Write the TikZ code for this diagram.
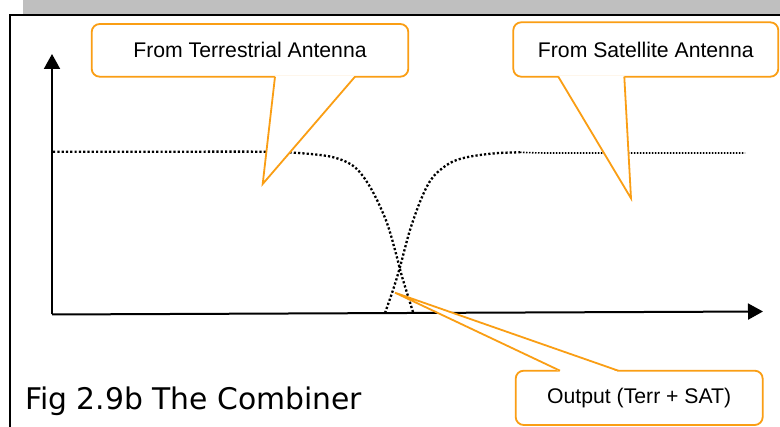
\documentclass[tikz,border=0pt]{standalone}
\usepackage{fontspec}
\setmainfont{Liberation Sans}
\newfontfamily\figfont{DejaVu Sans}
\usetikzlibrary{arrows.meta}
\definecolor{callorange}{RGB}{250,158,20}
\definecolor{bandgray}{RGB}{191,191,191}
\begin{document}
\begin{tikzpicture}[x=1pt,y=-1pt,
  callbox/.style={draw=callorange, line width=1.8pt, fill=white, rounded corners=8pt, inner sep=0pt,
    font=\fontsize{21.2}{25}\selectfont},
  pointer/.style={draw=callorange, line width=1.8pt, line join=miter},
  axisline/.style={line width=2pt, -{Triangle[length=15pt,width=16pt]}},
  sig/.style={line width=2.3pt, dash pattern=on 2.2pt off 2.1pt},
  sigfine/.style={line width=1.6pt, dash pattern=on 1.5pt off 1.5pt}]
\useasboundingbox (0,0) rectangle (780,427);
\fill[white] (0,0) rectangle (780,427);
% frame
\fill[bandgray] (23,0) rectangle (780,14);
\draw[line width=1.6pt] (10,427) -- (10,14.8) -- (780,14.8);
% axes
\coordinate (origin) at (52,314.5);
\coordinate (ytip) at (52,54);
\coordinate (xtip) at (763,311.5);
\draw[axisline] (origin) -- (ytip);
\draw[axisline] (origin) -- (xtip);
% signals
\draw[sig] plot[smooth, tension=0.55] coordinates {(53,151.7) (150,151.7) (265,151.7) (293,152.6) (330,156.5) (352,165) (365,179) (376,198) (387,223) (395,250) (401,273) (407,293) (413,312)};
\draw[sig] plot[smooth, tension=0.55] coordinates {(385,313) (393,290) (400,267) (410,230) (422,197) (433,177) (450,163) (468,157) (495,153.3) (520,152.3)};
\draw[sigfine] plot[smooth, tension=0.55] coordinates {(520,152.3) (545,153) (600,153) (745,153)};
% callout: terrestrial
\node[callbox, minimum width=316.6pt, minimum height=52.7pt] (terr) at (250,50.35) {From Terrestrial Antenna};
\coordinate (ttip) at (262.7,184);
\fill[white] (275,75.6) -- (ttip) -- (355,75.6) -- cycle;
\draw[pointer] (275,76.7) -- (ttip) -- (355,76.7);
% callout: satellite
\node[callbox, minimum width=265pt, minimum height=54.4pt] (sat) at (645.8,49.5) {From Satellite Antenna};
\coordinate (stip) at (631,198.3);
\fill[white] (558.3,75.6) -- (stip) -- (624.3,75.6) -- cycle;
\draw[pointer] (558.3,76.7) -- (stip) -- (624.3,76.7);
% callout: output
\node[callbox, minimum width=247pt, minimum height=54.3pt] (out) at (639.2,397.85) {Output (Terr + SAT)};
\coordinate (otip) at (395,292.7);
\fill[white] (560,371.8) -- (otip) -- (618.3,371.8) -- cycle;
\draw[pointer] (560,370.7) -- (otip) -- (618.3,370.7);
% caption
\node[anchor=base west, inner sep=0pt, font=\figfont\fontsize{29.8}{34}\selectfont] (cap) at (25,410) {Fig 2.9b The Combiner};
\end{tikzpicture}
\end{document}
